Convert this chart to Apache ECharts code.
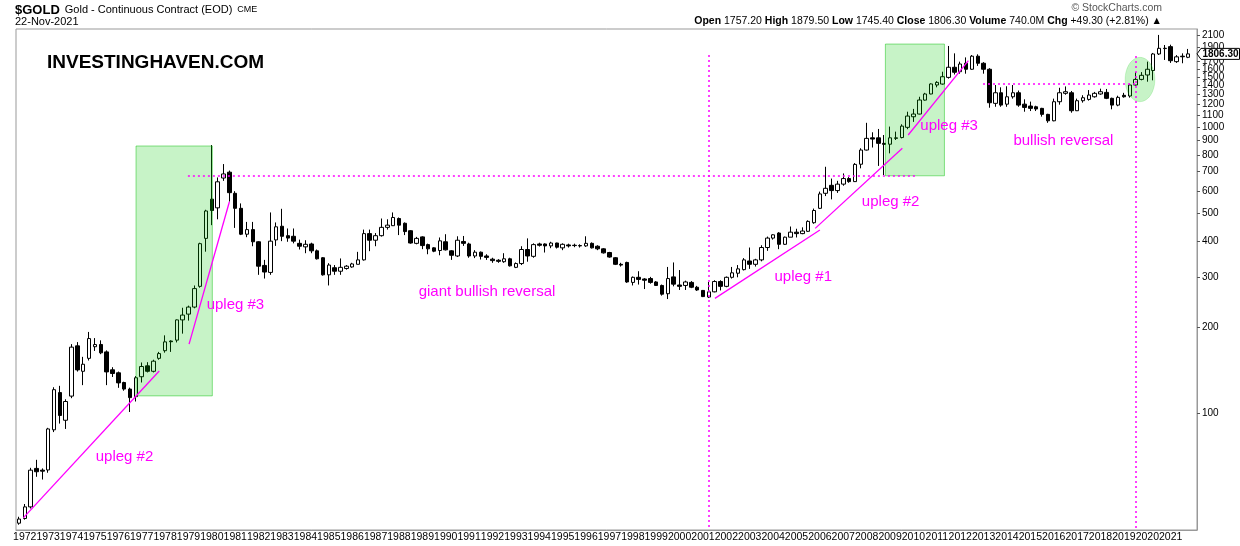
<!DOCTYPE html>
<html>
<head>
<meta charset="utf-8">
<title>$GOLD quarterly candles</title>
<script src="https://cdn.jsdelivr.net/npm/echarts@6.0.0/dist/echarts.min.js"></script>
<style>
  html, body { margin: 0; padding: 0; background: #fff; }
  #chartDom { width: 1240px; height: 546px; }
</style>
</head>
<body>
<div id="chartDom"></div>
<script>
// quarterly candles, first one is 1971 Q4, last one is 2021 Q4
var opens = [
  41.3, 42.9, 47.1, 64.2, 63.3, 63.4, 87.6, 118.2, 94.6, 114.9,
  172.2, 140.3, 155.7, 171, 174.1, 164, 142, 138.6, 128.2, 121.6,
  114.4, 134.3, 146.6, 140.3, 155.7, 165.6, 179, 180.3, 212.2, 222.3,
  235.3, 278, 409, 561, 523, 665, 697, 588, 521, 423,
  439, 398, 329, 311, 404, 451, 418, 416, 393, 382,
  391, 370, 350, 305, 323, 314, 321, 325, 332, 344,
  425, 403, 418, 447, 453, 480, 462, 435, 393, 414,
  389, 379, 371, 398, 370, 355, 399, 391, 355, 366,
  355, 346, 343, 339, 347, 324, 334, 374, 354, 391,
  391, 385, 394, 379, 388, 387, 386, 385, 393, 384,
  376, 365, 350, 332, 337, 287, 299, 295, 296, 288,
  280, 262, 300, 281, 280, 287, 276, 269, 255, 266,
  289, 278, 299, 309, 318, 341, 332, 344, 380, 410,
  427, 390, 413, 430, 425, 433, 464, 521, 588, 627,
  601, 633, 662, 646, 743, 833, 919, 919, 879, 873,
  915, 921, 1000, 1089, 1113, 1245, 1308, 1406, 1417, 1495,
  1622, 1565, 1675, 1596, 1773, 1675, 1596, 1213, 1321, 1205,
  1279, 1321, 1205, 1187, 1180, 1165, 1110, 1054, 1229, 1315,
  1321, 1143, 1239, 1252, 1279, 1308, 1325, 1263, 1196, 1294,
  1287, 1406, 1471, 1524, 1580, 1805, 1890, 1915, 1697, 1773,
  1757.2
];
var closes = [
  42.7, 47.1, 63.3, 62.5, 62.8, 88.2, 121, 98.3, 110, 170.4,
  141.9, 148.5, 182.6, 174, 162.8, 139.6, 137.8, 127.8, 121.6, 113.5,
  133.2, 145.8, 140.3, 152.2, 161.8, 177.8, 178, 212.2, 220.6, 235.3,
  273, 392, 510, 512, 645, 687, 591, 521, 423, 439,
  398, 327, 312, 400, 449, 416, 410, 400, 384, 390,
  370, 347, 305, 330, 314, 324, 327, 333, 344, 425,
  403, 418, 447, 455, 484, 455, 432, 394, 409, 386,
  376, 369, 401, 373, 357, 403, 393, 355, 366, 354,
  351, 342, 340, 347, 328, 334, 374, 355, 389, 387,
  385, 394, 381, 390, 385, 386, 385, 393, 379, 376,
  364, 352, 332, 330, 288, 299, 294, 292, 287, 280,
  261, 296, 283, 278, 288, 276, 270, 256, 266, 289,
  278, 299, 310, 320, 344, 332, 344, 380, 410, 421,
  390, 413, 430, 425, 434, 469, 512, 585, 612, 601,
  633, 662, 646, 742, 833, 915, 910, 879, 872, 919,
  919, 1010, 1095, 1113, 1246, 1308, 1418, 1436, 1503, 1622,
  1558, 1665, 1596, 1773, 1675, 1596, 1219, 1321, 1196, 1279,
  1321, 1196, 1174, 1165, 1159, 1110, 1054, 1229, 1321, 1332,
  1143, 1239, 1269, 1297, 1315, 1332, 1263, 1196, 1273, 1279,
  1406, 1471, 1520, 1596, 1805, 1889, 1885, 1710, 1764, 1765,
  1806.3
];
var lows = [
  40.8, 42.5, 46.5, 60, 58.7, 62, 86, 92.1, 88.2, 113,
  140, 125.5, 153, 165.3, 161, 125.5, 134, 122.8, 120, 101.1,
  110, 128.2, 139, 139, 154, 163, 164, 177, 190, 211,
  233, 275, 367.5, 455, 477, 650, 550, 445, 420, 413,
  384, 305, 296, 305, 385, 400, 398, 393, 374, 363,
  363, 345, 303, 280, 305, 305, 318, 323, 332, 342,
  369, 384, 415, 439, 452, 420, 420, 392, 390, 375,
  360, 366, 357, 371, 344, 352, 385, 350, 349, 345,
  344, 336, 336, 336, 326, 322, 330, 339, 350, 383,
  365, 378, 377, 372, 380, 381, 380, 382, 377, 372,
  362, 350, 330, 326, 286, 280, 282, 272, 284, 279,
  258, 251, 278, 270, 270, 274, 268, 255, 253, 265,
  269, 276, 296, 299, 316, 320, 326, 340, 370, 405,
  375, 388, 413, 412, 423, 431, 460, 518, 575, 560,
  590, 625, 640, 645, 719, 830, 850, 733, 681, 811,
  903, 915, 985, 1045, 1110, 1240, 1305, 1380, 1410, 1480,
  1530, 1540, 1540, 1590, 1640, 1540, 1171, 1180, 1180, 1180,
  1260, 1180, 1134, 1140, 1140, 1090, 1037, 1050, 1200, 1300,
  1125, 1140, 1220, 1240, 1270, 1300, 1255, 1156, 1185, 1270,
  1270, 1400, 1460, 1444, 1460, 1790, 1720, 1680, 1680, 1675,
  1745.4
];
var highs = [
  43.5, 48.2, 64.5, 68.8, 64.2, 89, 123.4, 124.8, 112, 174.6,
  177.5, 157.6, 192.6, 183.3, 180, 166, 145, 140, 129, 123,
  135, 150.6, 151, 154, 164, 187.4, 180, 213, 234, 238,
  280, 395, 515, 867, 668, 744, 706, 598, 542, 467,
  467, 400, 344, 504, 465, 519, 443, 443, 405, 403,
  395, 374, 352, 335, 330, 348, 330, 336, 367, 439,
  439, 427, 480, 477, 504, 484, 465, 437, 414, 416,
  392, 381, 412, 423, 372, 416, 417, 395, 372, 368,
  360, 350, 346, 363, 350, 337, 384, 409, 393, 395,
  393, 398, 395, 393, 392, 392, 390, 416, 396, 387,
  378, 367, 352, 336, 339, 301, 314, 297, 300, 290,
  282, 325, 337, 317, 291, 290, 279, 270, 288, 292,
  292, 301, 325, 330, 349, 380, 347, 387, 415, 423,
  430, 415, 450, 442, 447, 473, 520, 596, 728, 662,
  650, 690, 670, 750, 845, 1037, 961, 987, 940, 1006,
  966, 1025, 1134, 1160, 1279, 1320, 1425, 1450, 1565, 1925,
  1814, 1697, 1756, 1790, 1800, 1690, 1610, 1406, 1380, 1392,
  1406, 1345, 1253, 1230, 1190, 1170, 1115, 1260, 1375, 1390,
  1340, 1260, 1295, 1350, 1330, 1365, 1362, 1270, 1290, 1320,
  1420, 1560, 1560, 1697, 1820, 2104, 1940, 1945, 1789, 1814,
  1879.5
];

// year labels sit on each Q1 candle (candle 1 is 1972 Q1)
var yearLabels = [
  '1972', '1973', '1974', '1975', '1976', '1977', '1978', '1979', '1980', '1981',
  '1982', '1983', '1984', '1985', '1986', '1987', '1988', '1989', '1990', '1991',
  '1992', '1993', '1994', '1995', '1996', '1997', '1998', '1999', '2000', '2001',
  '2002', '2003', '2004', '2005', '2006', '2007', '2008', '2009', '2010', '2011',
  '2012', '2013', '2014', '2015', '2016', '2017', '2018', '2019', '2020', '2021'
];
var priceTicks = [100, 200, 300, 400, 500, 600, 700, 800, 900, 1000, 1100, 1200,
  1300, 1400, 1500, 1600, 1700, 1800, 1900, 2000, 2100];
var priceMin = 39.1, priceMax = 2207;

// annotations, in candle index / price
var uplegLines = [
  [[0.75, 43.1], [24.0, 140.6]],
  [[29.1, 174.7], [36.0, 549.4]],
  [[119.05, 252.4], [137.0, 437.5]],
  [[136.2, 443.4], [151.1, 844.5]],
  [[152.1, 940], [162.4, 1710]]
];
var dottedLines = [
  [[28.9, 678], [153.6, 678]],
  [[164.9, 1417], [191.2, 1417]],
  [[118.0, 1789], [118.0, priceMin]],
  [[191.1, 1776], [191.1, priceMin]]
];
var greenBoxes = [[20.03, 115.1, 33.08, 860.5], [148.2, 677, 158.3, 1955]];
var greenEllipse = [[189.2, 1229, 194.3, 1757]];
var noteTexts = ['upleg #2', 'upleg #3', 'giant bullish reversal', 'upleg #1',
  'upleg #2', 'upleg #3', 'bullish reversal'];
var noteX = [18.06, 37.03, 80.06, 134.15, 149.1, 159.1, 178.65];
var notePrice = [70.6, 239, 265.5, 300.4, 549.4, 1010, 895.7];

var lg = Math.log10;
var last = closes.length - 1;
var magenta = '#ff00ff';
var greenFill = 'rgba(0,200,0,0.22)';
var greenLine = 'rgba(0,190,0,0.45)';
var fontFam = 'Liberation Sans, Arial, sans-serif';

var candles = opens.map(function (o, i) {
  return [i, lg(o), lg(closes[i]), lg(lows[i]), lg(highs[i])];
});

function toLine(seg, style) {
  return [
    { coord: [seg[0][0], lg(seg[0][1])], lineStyle: style },
    { coord: [seg[1][0], lg(seg[1][1])] }
  ];
}
var markLines = uplegLines.map(function (s) {
  return toLine(s, { color: magenta, width: 1.3, type: 'solid' });
}).concat(dottedLines.map(function (s) {
  return toLine(s, { color: magenta, width: 1.5, type: [2, 3] });
}));

function fmt(v) { return v.toFixed(2); }

var chartDom = echarts.init(document.getElementById('chartDom'));
chartDom.setOption({
  animation: false,
  backgroundColor: '#fff',
  textStyle: { fontFamily: fontFam },
  title: [
    {
      left: 15, top: 1, padding: 0,
      text: '{a|$GOLD} {b|Gold - Continuous Contract (EOD)} {c|CME}',
      textStyle: { fontWeight: 'normal', rich: {
        a: { fontSize: 13, fontWeight: 'bold', color: '#000', fontFamily: fontFam },
        b: { fontSize: 11, fontWeight: 'normal', color: '#000', fontFamily: fontFam },
        c: { fontSize: 9, fontWeight: 'normal', color: '#000', fontFamily: fontFam }
      } }
    },
    {
      left: 15, top: 16, padding: 0, text: '22-Nov-2021',
      textStyle: { fontSize: 11, fontWeight: 'normal', color: '#000' }
    },
    {
      right: 78, top: 3, padding: 0, text: '\u00a9 StockCharts.com',
      textStyle: { fontSize: 10.5, fontWeight: 'normal', color: '#555' }
    },
    {
      right: 78, top: 16, padding: 0,
      text: '{b|Open} {n|' + fmt(opens[last]) + '} {b|High} {n|' + fmt(highs[last]) +
        '} {b|Low} {n|' + fmt(lows[last]) + '} {b|Close} {n|' + fmt(closes[last]) +
        '} {b|Volume} {n|740.0M} {b|Chg} {n|+49.30 (+2.81%) \u25b2}',
      textStyle: { fontSize: 10.5, fontWeight: 'normal', color: '#000',
        rich: {
          b: { fontSize: 10.5, fontWeight: 'bold', color: '#000', fontFamily: fontFam },
          n: { fontSize: 10.5, fontWeight: 'normal', color: '#000', fontFamily: fontFam }
        } }
    },
    {
      left: 47, top: 53, padding: 0, text: 'INVESTINGHAVEN.COM',
      textStyle: { fontSize: 19, fontWeight: 'bold', color: '#000' }
    }
  ],
  grid: {
    left: 16, right: 43, top: 29, bottom: 16,
    show: true, borderColor: '#999', borderWidth: 1, backgroundColor: 'transparent'
  },
  xAxis: {
    type: 'value', min: -0.5, max: last + 1.5,
    axisLine: { show: true, onZero: false, lineStyle: { color: '#999' } },
    axisTick: { show: false },
    splitLine: { show: false },
    axisLabel: {
      customValues: yearLabels.map(function (y, i) { return 1 + 4 * i; }),
      formatter: function (v) { return yearLabels[Math.round((v - 1) / 4)]; },
      hideOverlap: false, showMinLabel: true, showMaxLabel: true,
      fontSize: 10.5, color: '#000', margin: 2
    }
  },
  yAxis: {
    type: 'value', position: 'right',
    min: lg(priceMin), max: lg(priceMax),
    axisLine: { show: true, onZero: false, lineStyle: { color: '#999' } },
    axisTick: { show: true, length: 3, lineStyle: { color: '#555' },
      customValues: priceTicks.map(lg) },
    splitLine: { show: false },
    axisLabel: {
      customValues: priceTicks.map(lg),
      formatter: function (v) { return String(Math.round(Math.pow(10, v))); },
      hideOverlap: false, showMinLabel: true, showMaxLabel: true,
      fontSize: 10, color: '#000', margin: 5
    }
  },
  series: [
    {
      type: 'candlestick',
      data: candles,
      barWidth: 4,
      itemStyle: {
        color: '#fff', color0: '#000',
        borderColor: '#000', borderColor0: '#000', borderWidth: 1
      },
      markLine: {
        silent: true, symbol: ['none', 'none'], animation: false,
        label: { show: false },
        data: markLines
      }
    },
    {
      type: 'custom', z: 3, silent: true,
      data: greenBoxes,
      renderItem: function (params, api) {
        var p0 = api.coord([api.value(0), lg(api.value(1))]);
        var p1 = api.coord([api.value(2), lg(api.value(3))]);
        return {
          type: 'rect',
          shape: { x: Math.min(p0[0], p1[0]), y: Math.min(p0[1], p1[1]),
            width: Math.abs(p1[0] - p0[0]), height: Math.abs(p1[1] - p0[1]) },
          style: { fill: greenFill, stroke: greenLine, lineWidth: 1 }
        };
      }
    },
    {
      type: 'custom', z: 3, silent: true,
      data: greenEllipse,
      renderItem: function (params, api) {
        var p0 = api.coord([api.value(0), lg(api.value(1))]);
        var p1 = api.coord([api.value(2), lg(api.value(3))]);
        return {
          type: 'ellipse',
          shape: { cx: (p0[0] + p1[0]) / 2, cy: (p0[1] + p1[1]) / 2,
            rx: Math.abs(p1[0] - p0[0]) / 2, ry: Math.abs(p1[1] - p0[1]) / 2 },
          style: { fill: greenFill, stroke: 'rgba(0,200,0,0.15)', lineWidth: 1 }
        };
      }
    },
    {
      type: 'custom', z: 6, silent: true,
      data: noteX.map(function (x, i) { return [x, notePrice[i]]; }),
      renderItem: function (params, api) {
        var p = api.coord([api.value(0), lg(api.value(1))]);
        return {
          type: 'text', x: p[0], y: p[1],
          style: { text: noteTexts[params.dataIndex], fill: magenta,
            font: '15px ' + fontFam, align: 'center', verticalAlign: 'middle' }
        };
      }
    },
    {
      // last close tag on the price axis
      type: 'custom', z: 8, silent: true, clip: false,
      data: [[last, closes[last]]],
      renderItem: function (params, api) {
        var y = api.coord([api.value(0), lg(api.value(1))])[1];
        var x0 = params.coordSys.x + params.coordSys.width;
        return {
          type: 'group',
          children: [
            {
              type: 'polygon',
              shape: { points: [[x0, y], [x0 + 4, y - 5.5], [x0 + 42.5, y - 5.5],
                [x0 + 42.5, y + 5.5], [x0 + 4, y + 5.5]] },
              style: { fill: '#fff', stroke: '#000', lineWidth: 1 }
            },
            {
              type: 'text', x: x0 + 23.5, y: y + 0.5,
              style: { text: fmt(api.value(1)), fill: '#000',
                font: 'bold 10px ' + fontFam, align: 'center', verticalAlign: 'middle' }
            }
          ]
        };
      }
    }
  ]
});
</script>
</body>
</html>
